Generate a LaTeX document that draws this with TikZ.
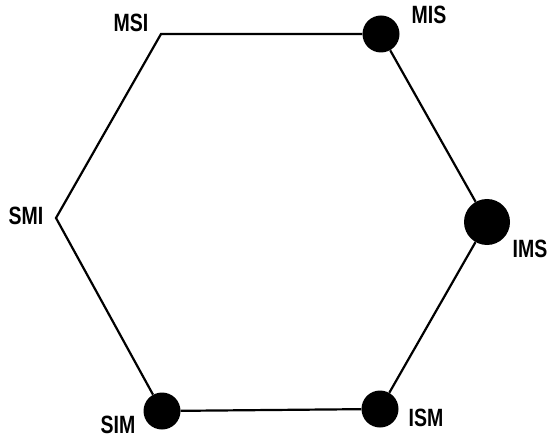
\documentclass[tikz,border=0pt]{standalone}
\usepackage{fontspec}
\setmainfont[FakeStretch=0.78]{Liberation Sans}
\usetikzlibrary{positioning,calc}

\begin{document}
\begin{tikzpicture}[x=1pt, y=-1pt, dot/.style={circle, fill=black, inner sep=0pt, minimum size=37pt}, lbl/.style={inner sep=0pt, font=\fontsize{25}{25}\selectfont\bfseries}, side/.style={line width=2.2pt, line join=miter}]
\useasboundingbox (0,0) rectangle (548,438);

\coordinate (msi) at (161,34);
\node[dot] (mis) at (381,34) {};
\node[dot, minimum size=46pt] (ims) at (487,222) {};
\node[dot] (ism) at (380,409) {};
\node[dot] (sim) at (162,411) {};
\coordinate (smi) at (56,218);

\draw[side] (sim) -- (smi) -- (msi) -- (mis) -- (ims) -- (ism) -- (sim);

\node[lbl] (msi-l) at (131,23) {MSI};
\node[lbl] (mis-l) at (429,15) {MIS};
\node[lbl] (ims-l) at (530,249) {IMS};
\node[lbl] (ism-l) at (426,418) {ISM};
\node[lbl] (sim-l) at (118,425) {SIM};
\node[lbl] (smi-l) at (26,216) {SMI};
\end{tikzpicture}
\end{document}
